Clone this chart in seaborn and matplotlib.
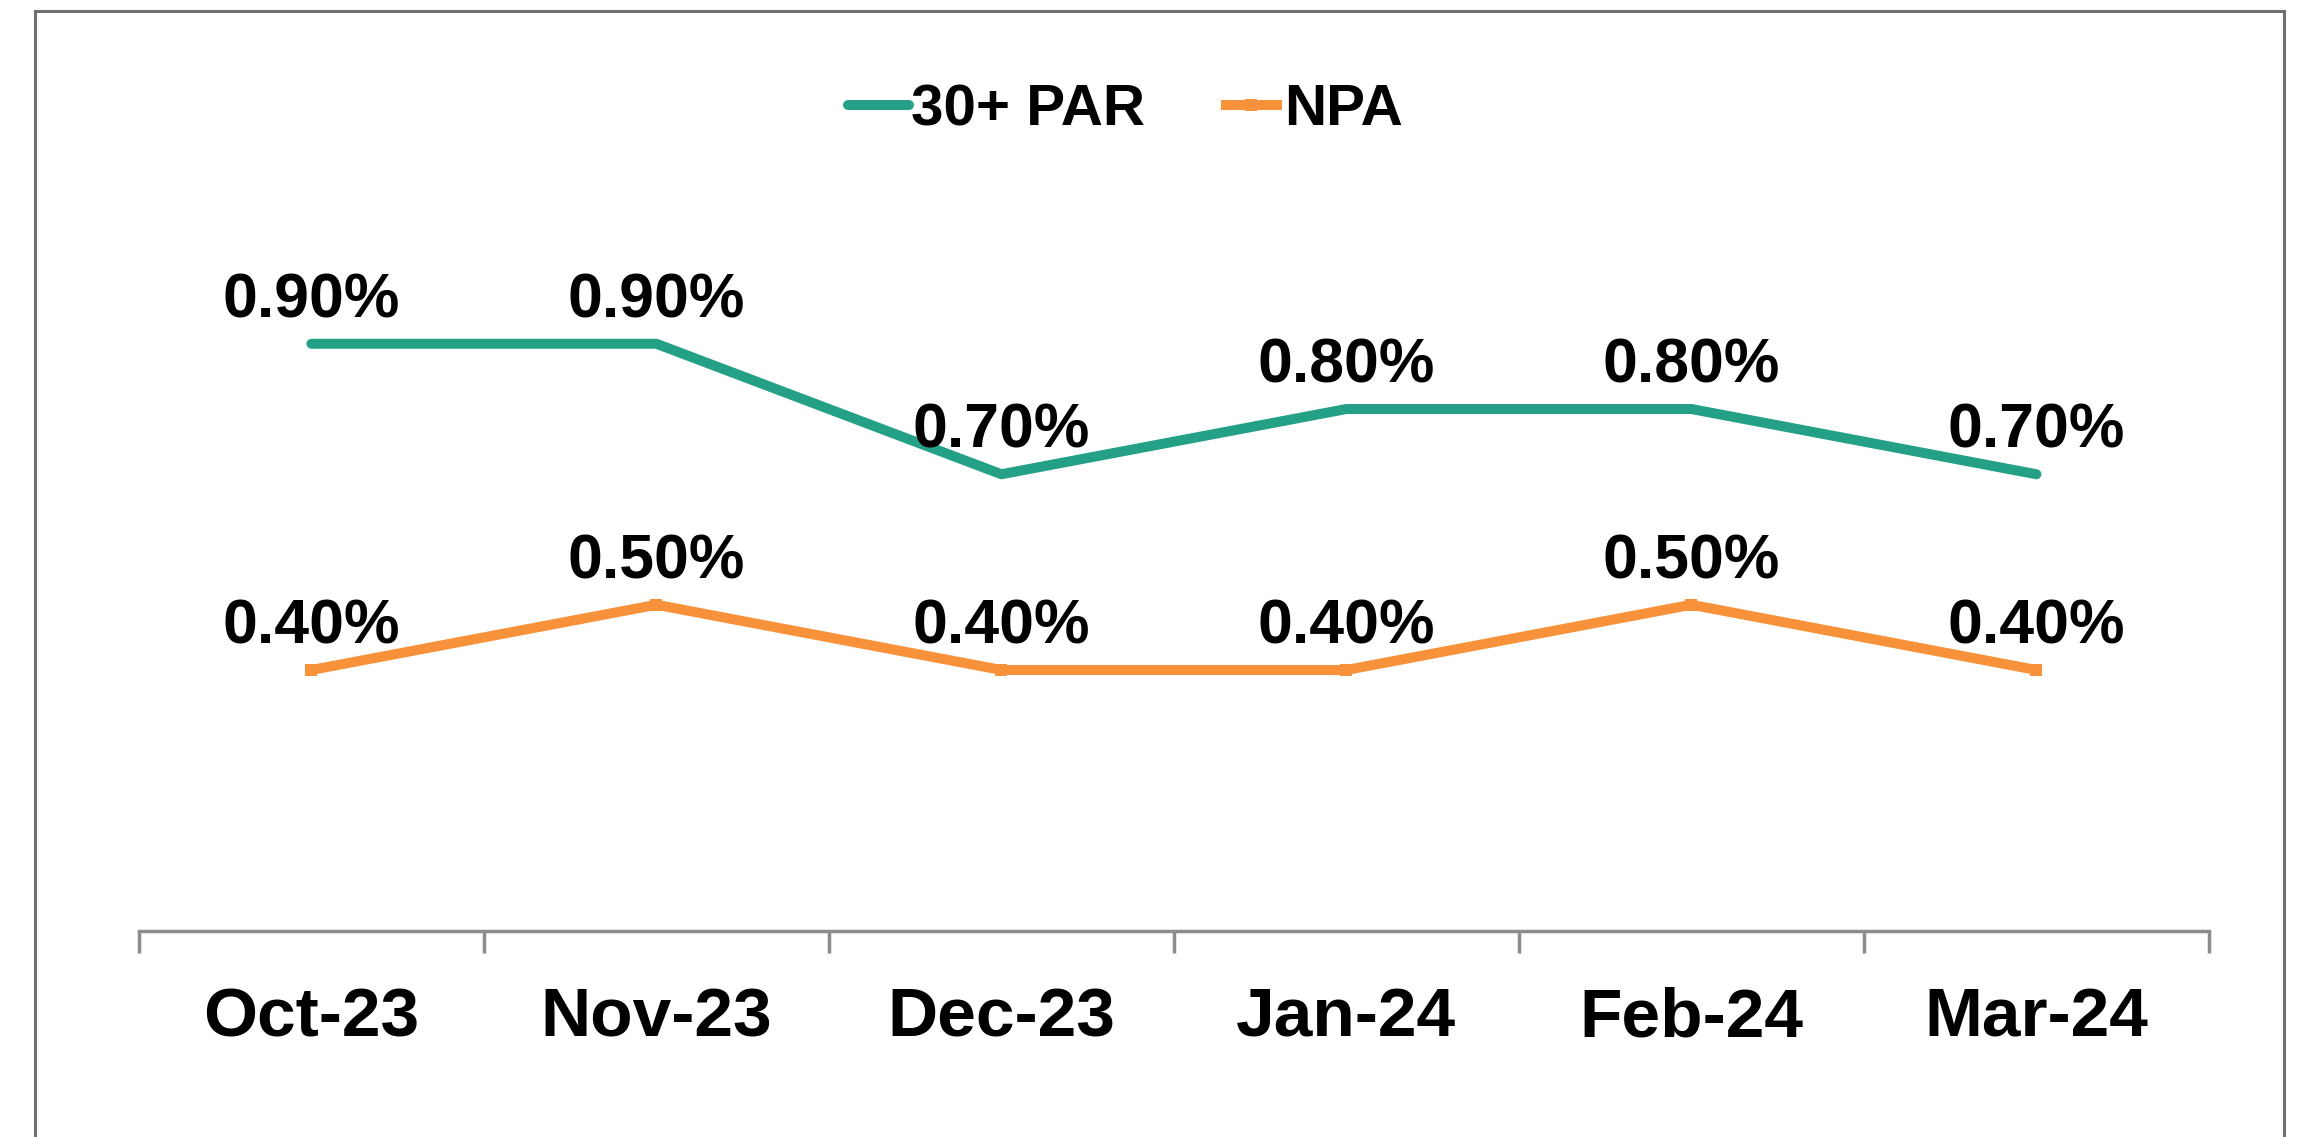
import pandas as pd
import matplotlib.pyplot as plt
import seaborn as sns
from matplotlib.patches import Rectangle

months = ['Oct-23', 'Nov-23', 'Dec-23', 'Jan-24', 'Feb-24', 'Mar-24']
par_30 = [0.90, 0.90, 0.70, 0.80, 0.80, 0.70]
npa = [0.40, 0.50, 0.40, 0.40, 0.50, 0.40]

df = pd.DataFrame({'Month': months, '30+ PAR': par_30, 'NPA': npa})

sns.set_style('white')
plt.rcParams['font.family'] = ['Liberation Sans', 'DejaVu Sans']
plt.rcParams['font.weight'] = 'bold'
plt.rcParams['text.color'] = 'black'
plt.rcParams['xtick.labelcolor'] = 'black'

fig = plt.figure(figsize=(23, 11.37), dpi=100)
ax = fig.add_axes([0.0604, 0.1812, 0.9, 0.6886])

green = '#23A085'
orange = '#F7923A'

#Draw the two series
sns.lineplot(data=df, x='Month', y='30+ PAR', color=green, linewidth=7.2,
             solid_capstyle='round', label='30+ PAR', ax=ax)
sns.lineplot(data=df, x='Month', y='NPA', color=orange, linewidth=7.2,
             marker='s', markersize=9, markeredgewidth=0,
             solid_capstyle='butt', label='NPA', ax=ax)

#Data labels above each point
for i, m in enumerate(months):
    for v in (par_30[i], npa[i]):
        ax.annotate(f'{v:.2f}%', (i, v), xytext=(0, 19), textcoords='offset points',
                    ha='center', va='baseline', fontsize=45, fontweight='bold',
                    color='black')

ax.set_ylim(0, 1.2)
ax.set_xlim(-0.5, len(months) - 0.5)
ax.set_xlabel('')
ax.set_ylabel('')
ax.set_yticks([])

#Category boundary ticks
ax.set_xticks(range(len(months)))
ax.set_xticklabels(months, fontsize=50, fontweight='bold', color='black')
ax.set_xticks([i - 0.5 for i in range(len(months) + 1)], minor=True)
ax.tick_params(axis='x', which='major', length=0, pad=40)
ax.tick_params(axis='x', which='minor', length=16, width=2.5, color='#8C8C8C',
               direction='out', bottom=True)

for side in ['top', 'right', 'left']:
    ax.spines[side].set_visible(False)
ax.spines['bottom'].set_color('#8C8C8C')
ax.spines['bottom'].set_linewidth(2.5)

handles, labels = ax.get_legend_handles_labels()
leg = ax.legend(handles, labels, loc='center', bbox_to_anchor=(0.4895, 0.903),
                bbox_transform=fig.transFigure, ncol=2, frameon=False,
                prop={'size': 42, 'weight': 'bold'}, handlelength=1.03,
                handletextpad=0.05, columnspacing=1.3)
for t in leg.get_texts():
    t.set_color('black')

#Outer chart frame
fig.patches.append(Rectangle((35 / 2300, -0.01), (2284 - 35) / 2300, 1 - 11 / 1137 + 0.01,
                             transform=fig.transFigure, fill=False,
                             edgecolor='#707070', linewidth=2.2))

fig.savefig('out.png', dpi=100)
